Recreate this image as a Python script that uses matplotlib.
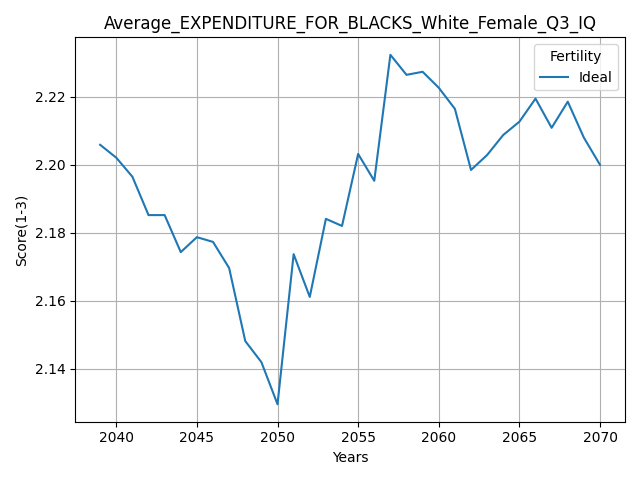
import matplotlib
matplotlib.use("Agg")
import matplotlib.pyplot as plt

years = list(range(2039, 2071))
ideal = [2.2059, 2.2021, 2.1965, 2.1852, 2.1852, 2.1743, 2.1787, 2.1773,
         2.1696, 2.1481, 2.1419, 2.1295, 2.1737, 2.1611, 2.1841, 2.1820,
         2.2032, 2.1953, 2.2324, 2.2265, 2.2274, 2.2227, 2.2165, 2.1985,
         2.2029, 2.2088, 2.2127, 2.2195, 2.2109, 2.2186, 2.2080, 2.2000]

fig, ax = plt.subplots(figsize=(6.4, 4.8), dpi=100)
ax.plot(years, ideal, label="Ideal")
ax.set_title("Average_EXPENDITURE_FOR_BLACKS_White_Female_Q3_IQ")
ax.set_xlabel("Years")
ax.set_ylabel("Score(1-3)")
ax.grid(True)
ax.legend(title="Fertility", loc="upper right")
fig.tight_layout()
fig.savefig("out.png")
